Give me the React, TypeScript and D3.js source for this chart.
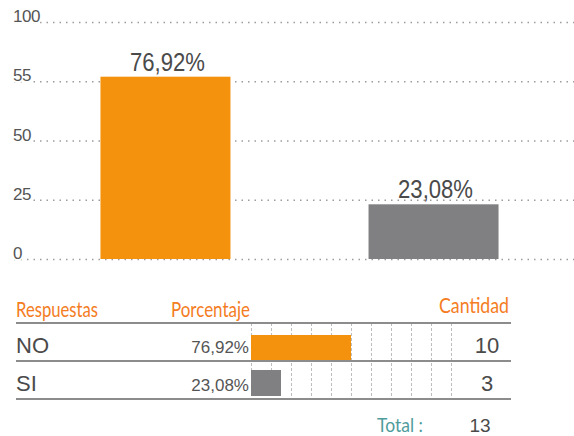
import { useEffect, useRef } from 'react';
import * as d3 from 'd3';

const categories = ['NO', 'SI'];
const percentages = [76.92, 23.08];
const percentLabels = ['76,92%', '23,08%'];
const counts = [10, 3];
const totalCount = 13;
const yTicks = [0, 25, 50, 75, 100];
const yTickLabels = ['0', '25', '50', '55', '100'];
const countTicks = [2, 4, 6, 8, 10, 12, 14, 16, 18, 20];

const WIDTH = 574;
const HEIGHT = 436;
const ORANGE = '#f4920e';
const GRAY = '#808082';
const HEAD = '#f47c22';
const TEXT = '#4a4a4a';
const FONT = 'Liberation Sans, Arial, sans-serif';
const HEAD_FONT = 'Lato, Noto Sans, sans-serif';

export default function App() {
  const svgRef = useRef<SVGSVGElement | null>(null);

  useEffect(() => {
    if (!svgRef.current) return;
    const svg = d3.select(svgRef.current);
    svg.selectAll('*').remove();

    // upper column chart
    const y = d3.scaleLinear().domain([0, 100]).range([259, 22]);
    const x = d3
      .scaleBand<string>()
      .domain(categories)
      .range([38, 561])
      .paddingInner(0.515)
      .paddingOuter(0.233);

    svg
      .append('g')
      .selectAll('line')
      .data(yTicks)
      .enter()
      .append('line')
      .attr('x1', 14)
      .attr('x2', 574)
      .attr('y1', (d) => y(d) + 0.5)
      .attr('y2', (d) => y(d) + 0.5)
      .attr('stroke', '#9c9c9c')
      .attr('stroke-width', 1.5)
      .attr('stroke-dasharray', '1.5 5');

    svg
      .append('g')
      .selectAll('text')
      .data(yTicks)
      .enter()
      .append('text')
      .attr('x', 13)
      .attr('y', (d) => y(d))
      .attr('font-family', FONT)
      .attr('font-size', 17)
      .attr('letter-spacing', -0.5)
      .attr('fill', '#555')
      .attr('stroke', '#fff')
      .attr('stroke-width', 4)
      .attr('paint-order', 'stroke')
      .text((_, i) => yTickLabels[i]);

    svg
      .append('g')
      .selectAll('rect')
      .data(percentages)
      .enter()
      .append('rect')
      .attr('x', (_, i) => x(categories[i]) ?? 0)
      .attr('y', (d) => y(d))
      .attr('width', x.bandwidth())
      .attr('height', (d) => y(0) - y(d))
      .attr('fill', (_, i) => (i === 0 ? ORANGE : GRAY));

    svg
      .append('g')
      .selectAll('text')
      .data(percentages)
      .enter()
      .append('text')
      .attr('x', (_, i) => (x(categories[i]) ?? 0) + x.bandwidth() / 2 + 2)
      .attr('y', (d) => y(d) - 6)
      .attr('text-anchor', 'middle')
      .attr('font-family', FONT)
      .attr('font-size', 26)
      .attr('textLength', 75)
      .attr('lengthAdjust', 'spacingAndGlyphs')
      .attr('fill', TEXT)
      .text((_, i) => percentLabels[i]);

    // lower table
    const rowY = d3.scaleBand<string>().domain(categories).range([323, 399]);
    const cx = d3.scaleLinear().domain([0, 20]).range([251, 451]);

    const head = svg.append('g').attr('font-family', HEAD_FONT).attr('fill', HEAD).attr('font-size', 21);
    head.append('text').attr('x', 16).attr('y', 317).attr('textLength', 82).attr('lengthAdjust', 'spacingAndGlyphs').text('Respuestas');
    head.append('text').attr('x', 171).attr('y', 317).attr('textLength', 79).attr('lengthAdjust', 'spacingAndGlyphs').text('Porcentaje');
    head.append('text').attr('x', 439).attr('y', 313).attr('textLength', 70).attr('lengthAdjust', 'spacingAndGlyphs').text('Cantidad');

    svg
      .append('g')
      .selectAll('line')
      .data([0, ...countTicks])
      .enter()
      .append('line')
      .attr('x1', (d) => cx(d) + 0.5)
      .attr('x2', (d) => cx(d) + 0.5)
      .attr('y1', 323)
      .attr('y2', 399)
      .attr('stroke', '#bdbdbd')
      .attr('stroke-dasharray', '3 2');

    svg
      .append('g')
      .selectAll('rect')
      .data(counts)
      .enter()
      .append('rect')
      .attr('x', cx(0))
      .attr('y', (_, i) => (rowY(categories[i]) ?? 0) + (i === 0 ? 12 : 9))
      .attr('width', (d) => cx(d) - cx(0))
      .attr('height', 26)
      .attr('fill', (_, i) => (i === 0 ? ORANGE : GRAY));

    svg
      .append('g')
      .selectAll('line')
      .data([323, 361, 399])
      .enter()
      .append('line')
      .attr('x1', 16)
      .attr('x2', 511)
      .attr('y1', (d) => d)
      .attr('y2', (d) => d)
      .attr('stroke', '#8c8c8c')
      .attr('stroke-width', 2);

    const rows = svg
      .append('g')
      .selectAll('g')
      .data(categories)
      .enter()
      .append('g')
      .attr('transform', (d) => `translate(0, ${(rowY(d) ?? 0) + rowY.bandwidth() - 8})`);

    rows
      .append('text')
      .attr('x', 16)
      .attr('font-family', FONT)
      .attr('font-size', 22)
      .attr('fill', TEXT)
      .text((d) => d);

    rows
      .append('text')
      .attr('x', 249)
      .attr('text-anchor', 'end')
      .attr('font-family', FONT)
      .attr('font-size', 17)
      .attr('fill', '#555')
      .text((_, i) => percentLabels[i]);

    rows
      .append('text')
      .attr('x', 487)
      .attr('text-anchor', 'middle')
      .attr('font-family', FONT)
      .attr('font-size', 22)
      .attr('fill', TEXT)
      .text((_, i) => counts[i]);

    svg
      .append('text')
      .attr('x', 377)
      .attr('y', 432)
      .attr('font-family', HEAD_FONT)
      .attr('font-size', 20)
      .attr('fill', '#4f9c9c')
      .attr('textLength', 46)
      .attr('lengthAdjust', 'spacingAndGlyphs')
      .text('Total :');

    svg
      .append('text')
      .attr('x', 480)
      .attr('y', 432)
      .attr('text-anchor', 'middle')
      .attr('font-family', FONT)
      .attr('font-size', 19)
      .attr('fill', TEXT)
      .text(totalCount);
  }, []);

  return (
    <svg
      ref={svgRef}
      width={WIDTH}
      height={HEIGHT}
      viewBox={`0 0 ${WIDTH} ${HEIGHT}`}
      style={{ position: 'absolute', left: 0, top: 0, background: '#fff' }}
    />
  );
}
